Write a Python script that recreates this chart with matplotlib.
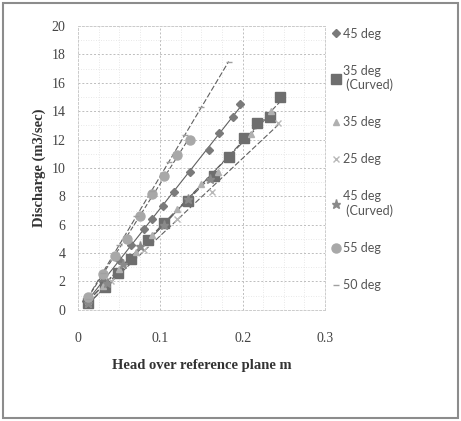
import numpy as np
import matplotlib
matplotlib.use("Agg")
import matplotlib.pyplot as plt
from matplotlib.patches import Rectangle

# series: head (m) vs discharge (m3/sec)
h45 = [0.01, 0.03, 0.05, 0.065, 0.08, 0.09, 0.103, 0.117, 0.136, 0.159, 0.171, 0.188, 0.197]
q45 = [0.6, 2.0, 3.5, 4.6, 5.7, 6.4, 7.3, 8.3, 9.7, 11.3, 12.5, 13.6, 14.5]

h35c = [0.012, 0.033, 0.049, 0.064, 0.085, 0.105, 0.134, 0.165, 0.184, 0.202, 0.218, 0.233, 0.245]
q35c = [0.5, 1.6, 2.6, 3.6, 4.9, 6.1, 7.7, 9.4, 10.8, 12.1, 13.2, 13.6, 15.0]

h35 = [0.012, 0.03, 0.05, 0.07, 0.09, 0.12, 0.15, 0.17, 0.21, 0.235]
q35 = [0.6, 1.7, 2.9, 4.1, 5.3, 7.1, 8.9, 9.7, 12.4, 14.0]

h25 = [0.012, 0.04, 0.08, 0.12, 0.163, 0.243]
q25 = [0.4, 2.0, 4.2, 6.4, 8.3, 13.2]

h45c = [0.012, 0.035, 0.055, 0.075, 0.105, 0.134, 0.16]
q45c = [0.5, 1.9, 3.2, 4.5, 6.0, 7.8, 9.2]

h55 = [0.012, 0.03, 0.045, 0.06, 0.075, 0.09, 0.105, 0.12, 0.136]
q55 = [0.9, 2.5, 3.8, 5.0, 6.6, 8.2, 9.4, 10.9, 12.0]

h50 = [0.012, 0.03, 0.05, 0.07, 0.09, 0.11, 0.13, 0.15, 0.183]
q50 = [0.8, 2.6, 4.6, 6.6, 8.4, 10.4, 12.3, 14.3, 17.5]

series = [
    ("45 deg", h45, q45, "D", "#7a7a7a", 4.5, "-"),
    ("35 deg\n (Curved)", h35c, q35c, "s", "#6e6e6e", 6.5, (0, (6, 2))),
    ("35 deg", h35, q35, "^", "#b0b0b0", 4.5, (0, (6, 2))),
    ("25 deg", h25, q25, "x", "#b8b8b8", 4.5, (0, (5, 2))),
    ("45 deg\n (Curved)", h45c, q45c, "*", "#8a8a8a", 6.5, (0, (6, 2))),
    ("55 deg", h55, q55, "o", "#a8a8a8", 6.5, (0, (4, 2))),
    ("50 deg", h50, q50, "_", "#a0a0a0", 4.5, (0, (5, 2))),
]

fig = plt.figure(figsize=(4.61, 4.21), dpi=100)
fig.patches.append(Rectangle((0.006, 0.006), 0.988, 0.988, transform=fig.transFigure,
                             fill=False, edgecolor="#8c8c8c", linewidth=1.5))
ax = fig.add_axes([0.169, 0.264, 0.536, 0.674])

for label, h, q, m, c, s, ls in series:
    ax.plot(h, q, linestyle="none", marker=m, color=c, markersize=s,
            markeredgecolor=c, label=label, zorder=3)
    # linear trend line like the spreadsheet
    k, b = np.polyfit(h, q, 1)
    xs = np.array([min(h), max(h)])
    ax.plot(xs, k * xs + b, linestyle=ls, color="#606060", linewidth=0.8, zorder=2)

ax.set_xlim(0, 0.3)
ax.set_ylim(0, 20)
ax.set_xticks([0, 0.1, 0.2, 0.3])
ax.set_xticklabels(["0", "0.1", "0.2", "0.3"])
ax.set_yticks(range(0, 21, 2))
ax.set_xticks(np.arange(0, 0.301, 0.025), minor=True)
ax.set_yticks(np.arange(0, 20.1, 1), minor=True)
ax.grid(True, which="major", color="#bdbdbd", linestyle=(0, (2, 2)), linewidth=0.7)
ax.grid(True, which="minor", color="#e0e0e0", linestyle=(0, (1, 2)), linewidth=0.6)
ax.tick_params(axis="x", which="both", length=0, pad=16, labelsize=10, colors="#444444")
ax.tick_params(axis="y", which="both", length=0, pad=9, labelsize=10, colors="#444444")
for lbl in ax.get_xticklabels() + ax.get_yticklabels():
    lbl.set_family("Liberation Serif")
for sp in ax.spines.values():
    sp.set_color("#cccccc")
    sp.set_linestyle((0, (2, 2)))
    sp.set_linewidth(0.7)

ax.set_xlabel("Head over reference plane m", family="Liberation Serif",
              fontweight="bold", fontsize=10.5, color="#333333", labelpad=10)
ax.set_ylabel("Discharge (m3/sec)", family="Liberation Serif",
              fontweight="bold", fontsize=10.5, color="#333333", labelpad=4)

leg = ax.legend(loc="upper left", bbox_to_anchor=(0.99, 1.025), frameon=False,
                prop={"family": "Lato", "size": 9},
                labelspacing=2.0, handlelength=0.7, handletextpad=0.2,
                borderaxespad=0.3)
for t in leg.get_texts():
    t.set_color("#555555")

fig.savefig("out.png", dpi=100)
